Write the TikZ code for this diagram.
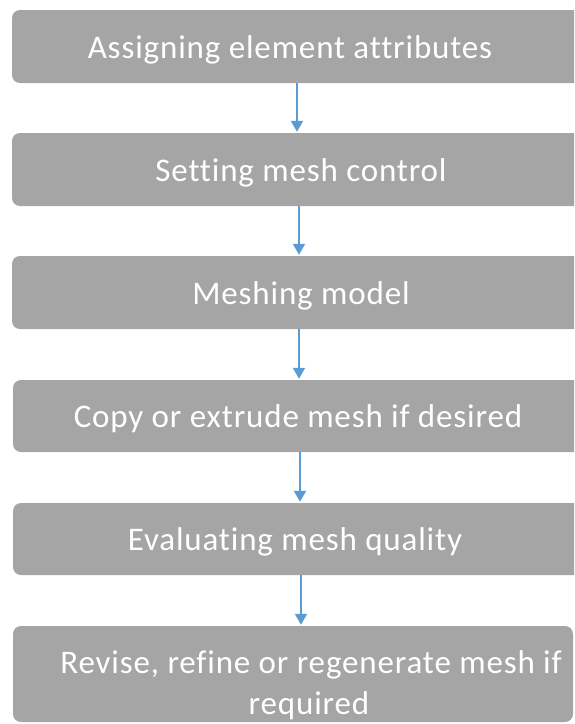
\documentclass[tikz,border=0pt]{standalone}
\usepackage{fontspec}
\setmainfont{Carlito}[Ligatures=NoCommon, LetterSpace=2.6]
\usetikzlibrary{arrows.meta}
\definecolor{boxgray}{HTML}{A5A5A5}
\definecolor{flowblue}{HTML}{5B9BD5}
\tikzset{
  stepbox/.style={draw=none, fill=boxgray, rounded corners=8pt, inner sep=0pt},
  lbl/.style={text=white, inner sep=0pt, font=\fontsize{33}{37}\selectfont},
  flowarrow/.style={draw=flowblue, line width=2pt,
    -{Triangle[width=12pt,length=11pt]}, shorten >=1pt}
}
\begin{document}
\begin{tikzpicture}[x=1pt,y=-1pt]
  \useasboundingbox (0,0) rectangle (574,724);
  \clip (0,0) rectangle (574,724);
  % process boxes (the first five run past the right edge)
  \node[stepbox, minimum width=608pt, minimum height=73pt] (b1) at (316,46.5) {};
  \node[stepbox, minimum width=608pt, minimum height=73pt] (b2) at (316,169.5) {};
  \node[stepbox, minimum width=608pt, minimum height=73pt] (b3) at (316,292.5) {};
  \node[stepbox, minimum width=607pt, minimum height=72pt] (b4) at (316.5,416) {};
  \node[stepbox, minimum width=607pt, minimum height=72pt] (b5) at (316.5,539) {};
  \node[stepbox, minimum width=560pt, minimum height=96pt] (b6) at (293,674) {};
  % labels
  \node[lbl, anchor=base] (t1) at (290,58) {Assigning element attributes};
  \node[lbl, anchor=base] (t2) at (301,181) {Setting mesh control};
  \node[lbl, anchor=base] (t3) at (301,304) {Meshing model};
  \node[lbl, anchor=base] (t4) at (298,427.5) {Copy or extrude mesh if desired};
  \node[lbl, anchor=base] (t5) at (295,550.5) {Evaluating mesh quality};
  \node[lbl, anchor=base] (t6a) at (311,673) {Revise, refine or regenerate mesh if};
  \node[lbl, anchor=base] (t6b) at (309,714) {required};
  % connectors
  \draw[flowarrow] ([xshift=-19pt]b1.south) -- ([xshift=-19pt]b2.north);
  \draw[flowarrow] ([xshift=-17pt]b2.south) -- ([xshift=-17pt]b3.north);
  \draw[flowarrow] ([xshift=-17pt]b3.south) -- ([xshift=-17.5pt]b4.north);
  \draw[flowarrow] ([xshift=-16.5pt]b4.south) -- ([xshift=-16.5pt]b5.north);
  \draw[flowarrow] ([xshift=-15.5pt]b5.south) -- ([xshift=8pt]b6.north);
\end{tikzpicture}
\end{document}
